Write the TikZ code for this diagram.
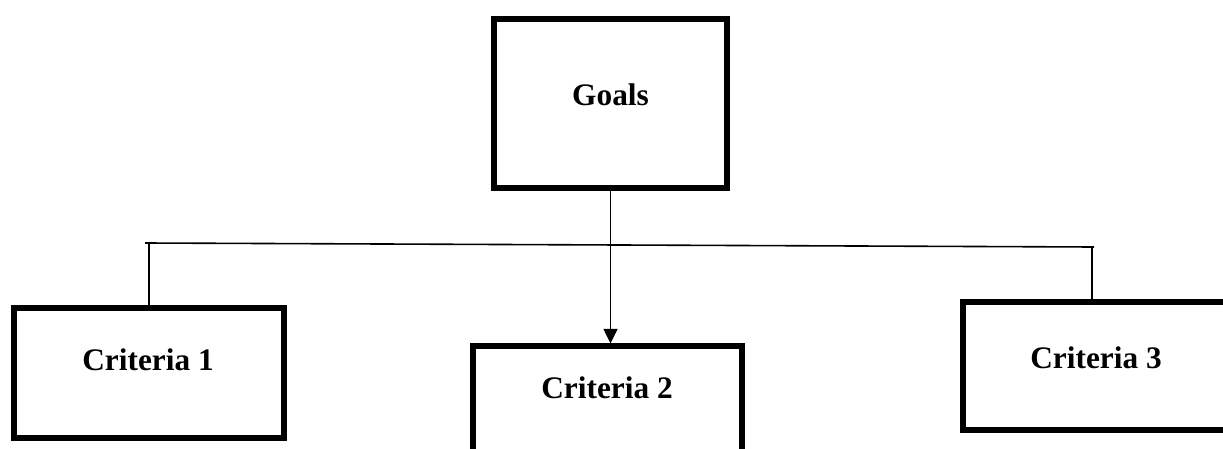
\documentclass[tikz,border=0pt]{standalone}
\usepackage{fontspec}
\setmainfont{Liberation Serif}
\usetikzlibrary{arrows.meta}
\begin{document}
\begin{tikzpicture}[x=0.75pt,y=-0.75pt,
  boxnode/.style={draw,line width=3.8pt,minimum width=#1,inner sep=0pt},
  lbl/.style={font=\fontsize{23.5}{28}\selectfont\bfseries,inner sep=0pt},
  thin/.style={line width=1.2pt}]
\useasboundingbox (0,0) rectangle (1223,449);
\clip (0,0) rectangle (1223,449);
\fill[white] (0,0) rectangle (1223,449);
\node[draw,line width=3.8pt,minimum width=233*0.75pt,minimum height=169*0.75pt] (G) at (610.5,103.5) {};
\node[draw,line width=3.8pt,minimum width=270*0.75pt,minimum height=130*0.75pt] (C1) at (149,373) {};
\node[draw,line width=3.8pt,minimum width=269*0.75pt,minimum height=132*0.75pt] (C2) at (607.5,412) {};
\node[draw,line width=3.8pt,minimum width=270*0.75pt,minimum height=128*0.75pt] (C3) at (1098,366) {};
\node[lbl] (tG) at (610.5,95) {Goals};
\node[lbl] (t1) at (148,360) {Criteria 1};
\node[lbl] (t2) at (607,388) {Criteria 2};
\node[lbl] (t3) at (1096,358) {Criteria 3};
\coordinate (hl) at (145,243);
\coordinate (hr) at (1094,247);
\coordinate (jl) at (149,243);
\coordinate (jr) at (1092,247);
\draw[thin] (hl) -- (hr);
\draw[thin] (jl) -- (C1.north);
\draw[thin] (jr) -- (jr |- C3.north);
\draw[thin,-{Triangle[width=10.5pt,length=11pt]}] (G.south) -- (G.south |- C2.north);
\end{tikzpicture}
\end{document}
